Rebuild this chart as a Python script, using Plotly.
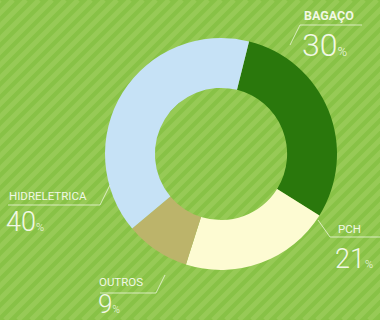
import plotly.graph_objects as go

# ---- data ----
categories = ["BAGAÇO", "PCH", "OUTROS", "HIDRELETRICA"]
values = [30, 21, 9, 40]
colors = ["#2a780c", "#fdfbd2", "#bcb46a", "#c6e2f6"]

W, H = 380, 320
BG = "#88c246"
STRIPE = "#97ca56"
TXT = "#f1f8e4"


def px(x):
    return x / W


def py(y):
    return 1 - y / H


fig = go.Figure()
fig.add_trace(go.Pie(
    labels=categories,
    values=values,
    marker=dict(colors=colors, line=dict(width=0)),
    hole=0.57,
    sort=False,
    direction="clockwise",
    rotation=14,
    textinfo="none",
    hoverinfo="label+percent",
    showlegend=False,
    domain=dict(x=[px(221 - 116), px(221 + 116)], y=[py(154 + 116), py(154 - 116)]),
))

shapes = []
# diagonal background stripes (decoration)
x0 = -H
while x0 < W:
    shapes.append(dict(type="line", xref="paper", yref="paper",
                       x0=px(x0), y0=0, x1=px(x0 + H), y1=1,
                       line=dict(color=STRIPE, width=5), layer="below"))
    x0 += 13


def seg(a, b, c, d, w=1):
    shapes.append(dict(type="line", xref="paper", yref="paper",
                       x0=px(a), y0=py(b), x1=px(c), y1=py(d),
                       line=dict(color="rgba(241,248,228,0.75)", width=w)))


# leader / underline lines
seg(300, 25, 362, 25)
seg(300, 25, 290, 45)
seg(8, 205, 100, 205)
seg(100, 205, 110, 185)
seg(100, 293, 156, 293)
seg(156, 293, 165, 275)
seg(330, 237, 380, 237)
seg(330, 237, 318, 220)

annotations = []


def label(x, y, text, size, bold=False):
    annotations.append(dict(
        xref="paper", yref="paper", x=px(x), y=py(y), text=text,
        showarrow=False, xanchor="left", yanchor="middle",
        font=dict(family="Roboto", size=size, color=TXT,
                  weight=700 if bold else 400)))


def number(x, y, v, size):
    annotations.append(dict(
        xref="paper", yref="paper", x=px(x), y=py(y),
        text=f"{v}<span style='font-size:{int(size*0.42)}px'>%</span>",
        showarrow=False, xanchor="left", yanchor="middle",
        font=dict(family="Roboto", size=size, color=TXT, weight=300)))


label(302, 15, categories[0], 12.5, bold=True)
number(300, 45, values[0], 32)
label(336, 229, categories[1], 11.5)
number(333, 259, values[1], 27)
label(97, 282, categories[2], 11.5)
number(96, 304, values[2], 26)
label(7, 196, categories[3], 11.5)
number(4, 222, values[3], 27)

fig.update_layout(
    width=W, height=H,
    margin=dict(l=0, r=0, t=0, b=0),
    paper_bgcolor=BG,
    plot_bgcolor=BG,
    shapes=shapes,
    annotations=annotations,
    showlegend=False,
)

fig.write_html("out.html")
